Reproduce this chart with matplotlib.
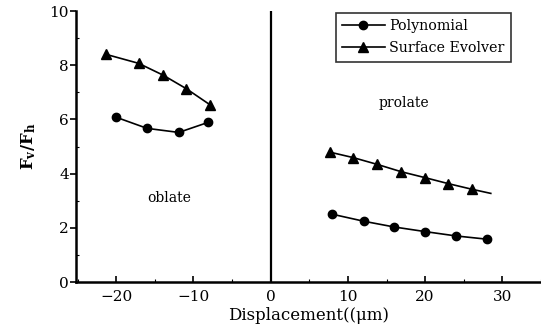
import matplotlib
matplotlib.use("Agg")
import matplotlib.pyplot as plt
from matplotlib.ticker import MultipleLocator

plt.rcParams['font.family'] = ['DejaVu Serif']
plt.rcParams['mathtext.fontset'] = 'dejavuserif'

# Oblate branch (negative displacement)
obl_poly_x = [-20.0, -16.0, -11.9, -8.1]
obl_poly_y = [6.08, 5.67, 5.52, 5.89]
obl_se_x = [-21.3, -17.1, -13.9, -10.9, -7.8]
obl_se_y = [8.40, 8.07, 7.63, 7.13, 6.53]

# Prolate branch (positive displacement)
pro_poly_x = [8.0, 12.1, 16.0, 20.0, 24.0, 28.0]
pro_poly_y = [2.50, 2.24, 2.03, 1.86, 1.70, 1.58]
pro_se_x = [7.7, 10.7, 13.8, 16.9, 20.0, 23.0, 26.1, 28.5]
pro_se_y = [4.79, 4.59, 4.34, 4.07, 3.85, 3.63, 3.42, 3.27]

fig = plt.figure(figsize=(5.41, 3.36), dpi=100)
ax = fig.add_axes([0.1405, 0.1607, 0.8595, 0.8065])

kw = dict(color='black', lw=1.2)
ax.plot(obl_poly_x, obl_poly_y, marker='o', ms=6, label='Polynomial', **kw)
ax.plot(obl_se_x, obl_se_y, marker='^', ms=6.5, label='Surface Evolver', **kw)
ax.plot(pro_poly_x, pro_poly_y, marker='o', ms=6, **kw)
ax.plot(pro_se_x, pro_se_y, marker='^', ms=6.5,
        markevery=list(range(len(pro_se_x) - 1)), **kw)

ax.axvline(0, color='black', lw=1.6)

ax.set_xlim(-25.2, 35)
ax.set_ylim(0, 10)
ax.set_xticks([-20, -10, 0, 10, 20, 30])
ax.set_yticks([0, 2, 4, 6, 8, 10])
ax.xaxis.set_minor_locator(MultipleLocator(5))
ax.yaxis.set_minor_locator(MultipleLocator(1))
ax.tick_params(axis='y', which='major', direction='out', length=4, width=1.2, labelsize=11, pad=1)
ax.tick_params(axis='y', which='minor', direction='in', length=2, width=0.8)
ax.tick_params(axis='x', which='major', direction='in', length=4, width=1.2, labelsize=11, pad=6)
ax.tick_params(axis='x', which='minor', direction='in', length=2, width=0.8)

for s in ['top', 'right']:
    ax.spines[s].set_visible(False)
for s in ['left', 'bottom']:
    ax.spines[s].set_linewidth(1.8)

ax.set_xlabel('Displacement((μm)', fontsize=12, labelpad=2)
ax.set_ylabel(r'$\mathbf{F_v/F_h}$', fontsize=12, labelpad=8)

ax.text(-13.2, 3.1, 'oblate', ha='center', va='center', fontsize=10)
ax.text(17.2, 6.6, 'prolate', ha='center', va='center', fontsize=10)

leg = ax.legend(loc='upper right', bbox_to_anchor=(0.9355, 0.9926), fontsize=10.3,
                frameon=True, fancybox=False, edgecolor='black', borderaxespad=0,
                handlelength=3.0, borderpad=0.45, labelspacing=0.55, handletextpad=0.3)
leg.get_frame().set_linewidth(1.2)

fig.savefig('out.png', dpi=100)
